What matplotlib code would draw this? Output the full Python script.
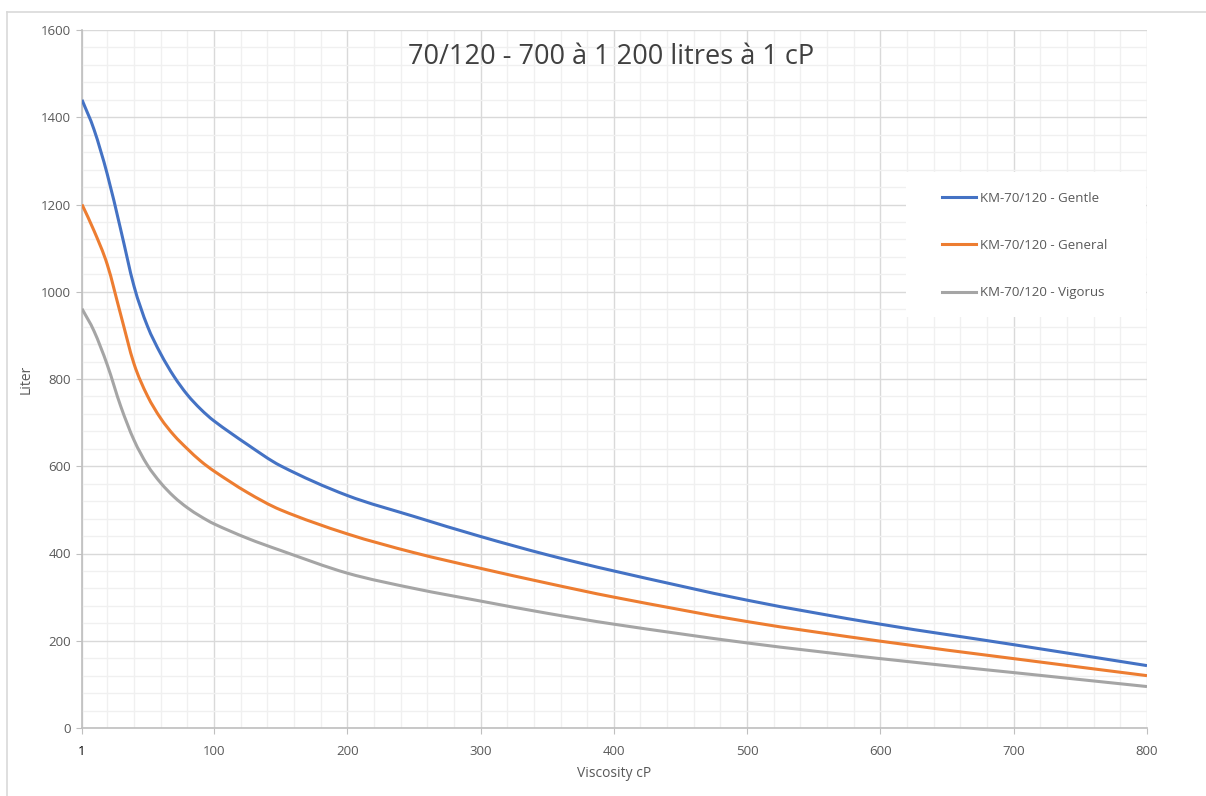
import matplotlib
matplotlib.use("Agg")
import matplotlib.pyplot as plt
from matplotlib.ticker import MultipleLocator, FixedLocator
from matplotlib.patches import Rectangle, PathPatch
from matplotlib.path import Path
from matplotlib.lines import Line2D

# values
viscosity = [1, 10, 20, 30, 40, 50, 60, 70, 80, 90, 100, 125, 150,
             200, 250, 300, 350, 400, 500, 600, 700, 800]
gentle = [1440, 1372, 1269, 1143, 1013, 922, 858, 806, 764, 731, 704, 650, 601,
          533, 485, 439, 397, 360, 293, 238, 191, 143]
general = [1200, 1140, 1062, 948, 835, 762, 710, 671, 640, 612, 589, 540, 500,
           445, 402, 366, 332, 300, 244, 199, 159, 120]
vigorus = [961, 910, 832, 738, 660, 603, 562, 530, 505, 485, 468, 435, 407,
           355, 320, 291, 263, 238, 195, 159, 127, 95]

labels = ["KM-70/120 - Gentle", "KM-70/120 - General", "KM-70/120 - Vigorus"]
colors = ["#4472C4", "#ED7D31", "#A5A5A5"]
title = "70/120 - 700 à 1 200 litres à 1 cP"


def smooth_path(xs, ys):
    # smoothed line like Excel: cubic hermite segments drawn as bezier curves
    n = len(xs)
    slopes = []
    for i in range(n):
        a, b = max(i - 1, 0), min(i + 1, n - 1)
        slopes.append((ys[b] - ys[a]) / (xs[b] - xs[a]))
    verts = [(xs[0], ys[0])]
    codes = [Path.MOVETO]
    for i in range(n - 1):
        h = (xs[i + 1] - xs[i]) / 3
        verts += [(xs[i] + h, ys[i] + slopes[i] * h),
                  (xs[i + 1] - h, ys[i + 1] - slopes[i + 1] * h),
                  (xs[i + 1], ys[i + 1])]
        codes += [Path.CURVE4] * 3
    return Path(verts, codes)


plt.rcParams['font.family'] = ['Open Sans', 'DejaVu Sans']
txt = "#595959"

fig = plt.figure(figsize=(12.06, 7.96), dpi=100)
ax = fig.add_axes([82/1206, 1 - 728/796, (1147-82)/1206, (728-30)/796])

# outer chart border (only top and left visible in the crop)
fig.add_artist(Line2D([7/1206, 1], [1 - 12/796]*2, color="#D9D9D9", lw=1.2,
                      transform=fig.transFigure))
fig.add_artist(Line2D([7/1206]*2, [0, 1 - 12/796], color="#D9D9D9", lw=1.2,
                      transform=fig.transFigure))

handles = []
for y, c, lab in zip([gentle, general, vigorus], colors, labels):
    ax.add_patch(PathPatch(smooth_path(viscosity, y), facecolor="none", edgecolor=c,
                           lw=2.2, capstyle="butt", zorder=3))
    handles.append(Line2D([], [], color=c, lw=2.2, label=lab))

ax.set_xlim(1, 800)
ax.set_ylim(0, 1600)
ax.xaxis.set_major_locator(FixedLocator([1, 100, 200, 300, 400, 500, 600, 700, 800]))
ax.xaxis.set_minor_locator(FixedLocator([v for v in range(20, 800, 20) if v % 100]))
ax.yaxis.set_major_locator(MultipleLocator(200))
ax.yaxis.set_minor_locator(MultipleLocator(40))

ax.grid(which="major", color="#D9D9D9", lw=1.0, zorder=1)
ax.grid(which="minor", color="#F0F0F0", lw=1.0, zorder=0)
ax.set_axisbelow(True)

for s in ["top", "right"]:
    ax.spines[s].set_visible(False)
for s in ["left", "bottom"]:
    ax.spines[s].set_color("#BFBFBF")
    ax.spines[s].set_linewidth(1.2)

ax.tick_params(which="major", length=4, color="#BFBFBF", labelsize=9.5, labelcolor=txt, pad=4)
ax.tick_params(which="minor", length=0)
ax.tick_params(axis="x", pad=8)
ax.get_xticklabels()[0].set_color("#000000")

ax.set_xlabel("Viscosity cP", fontsize=10, color=txt, labelpad=6)
ax.set_ylabel("Liter", fontsize=10, color=txt, labelpad=5)

fig.text(611/1206, 1 - 57/796, title, ha="center", va="center", fontsize=19.5, color="#404040")

# legend background box (display pixels, origin bottom-left)
ax.add_patch(Rectangle((906, 796 - 317), 240, 145, transform=None, facecolor="white",
                       edgecolor="none", zorder=4))
leg = ax.legend(handles=handles, loc="upper left", bbox_to_anchor=(935/1206, 1 - 185/796),
                bbox_transform=fig.transFigure, frameon=False, fontsize=9.5,
                handlelength=2.6, handletextpad=0.3, labelspacing=2.6,
                borderpad=0, labelcolor=txt)
leg.set_zorder(5)

fig.savefig("out.png", dpi=100, facecolor="white")
